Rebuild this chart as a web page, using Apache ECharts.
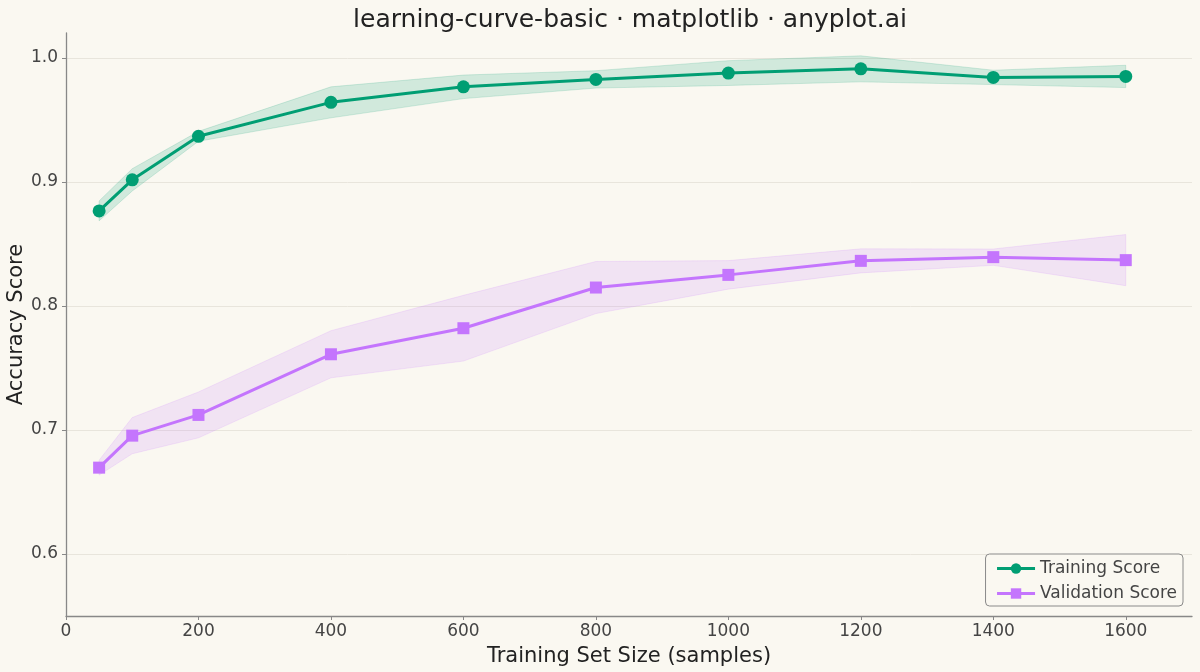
<!DOCTYPE html>
<html>
<head>
<meta charset="utf-8">
<script src="https://cdn.jsdelivr.net/npm/echarts@6/dist/echarts.min.js"></script>
<style>
  html,body{margin:0;padding:0;background:#FAF8F1;}
  #main{width:1200px;height:672px;}
</style>
</head>
<body>
<div id="main"></div>
<script>
/* data */
var trainSizes = [50, 100, 200, 400, 600, 800, 1000, 1200, 1400, 1600];
var trainMean = [0.8766, 0.9016, 0.9367, 0.9641, 0.9766, 0.9826, 0.9877, 0.9911, 0.9842, 0.9850];
var trainStd  = [0.0080, 0.0090, 0.0040, 0.0125, 0.0095, 0.0070, 0.0100, 0.0105, 0.0058, 0.0090];
var valMean = [0.6696, 0.6954, 0.7121, 0.7610, 0.7820, 0.8148, 0.8250, 0.8363, 0.8393, 0.8369];
var valStd  = [0.0060, 0.0146, 0.0185, 0.0190, 0.0265, 0.0210, 0.0115, 0.0097, 0.0066, 0.0206];
var yTicks = [0.6, 0.7, 0.8, 0.9, 1.0];
var xTicks = [0, 200, 400, 600, 800, 1000, 1200, 1400, 1600];

var green = '#009E73';
var purple = '#C475FD';
var font = 'DejaVu Sans';

function pairs(xs, ys){
    return xs.map(function(x, i){ return [x, ys[i]]; });
}

// std band as one polygon (mean +/- std), drawn through the axes
function band(name, m, s, color){
    var rows = trainSizes.map(function(x, i){ return [x, m[i] - s[i], m[i] + s[i]]; });
    return {
        name: name, type: 'custom', silent: true, z: 1,
        data: rows,
        encode: {x: 0, y: [1, 2]},
        renderItem: function(params, api){
            if (params.dataIndex !== 0) return;
            var top = [], bot = [];
            rows.forEach(function(r){
                top.push(api.coord([r[0], r[2]]));
                bot.push(api.coord([r[0], r[1]]));
            });
            return {
                type: 'polygon',
                shape: {points: top.concat(bot.reverse())},
                style: {fill: color, opacity: 0.16, stroke: color, lineWidth: 1}
            };
        }
    };
}

var myChart = echarts.init(document.getElementById('main'));
var option = {
    backgroundColor: '#FAF8F1',
    animation: false,
    textStyle: {fontFamily: font},
    title: {
        text: 'learning-curve-basic · matplotlib · anyplot.ai',
        left: 625, top: 3, textAlign: 'center',
        textStyle: {fontFamily: font, fontSize: 25, fontWeight: 'normal', color: '#222'}
    },
    grid: {left: 66, right: 8, top: 33, bottom: 56, outerBoundsMode: 'none', containLabel: false},
    legend: {
        data: ['Training Score', 'Validation Score'],
        orient: 'vertical', right: 17, bottom: 66,
        itemWidth: 38, itemHeight: 13, itemGap: 8,
        padding: [6, 6, 4, 10],
        backgroundColor: '#FAF8F1',
        borderColor: '#8a8a8a', borderWidth: 1, borderRadius: 4,
        lineStyle: {width: 3},
        textStyle: {fontFamily: font, fontSize: 17, color: '#444'}
    },
    xAxis: {
        type: 'value', min: 0, max: 1700, interval: 200,
        name: 'Training Set Size (samples)', nameLocation: 'middle', nameGap: 30,
        nameMoveOverlap: false,
        nameTextStyle: {fontFamily: font, fontSize: 21, color: '#222'},
        axisLine: {onZero: false, lineStyle: {color: '#888', width: 1.3}},
        axisTick: {show: true, length: 4, lineStyle: {color: '#888'}, customValues: xTicks},
        axisLabel: {
            fontFamily: font, fontSize: 17, color: '#444', margin: 7, customValues: xTicks,
            formatter: function(v){ return String(v); }
        },
        splitLine: {show: false}
    },
    yAxis: {
        type: 'value', min: 0.55, max: 1.02,
        name: 'Accuracy Score', nameLocation: 'middle', nameGap: 39,
        nameMoveOverlap: false,
        nameTextStyle: {fontFamily: font, fontSize: 21, color: '#222'},
        axisLine: {show: true, lineStyle: {color: '#888', width: 1.3}},
        axisTick: {show: true, length: 4, lineStyle: {color: '#888'}, customValues: yTicks},
        axisLabel: {
            fontFamily: font, fontSize: 17, color: '#444', margin: 8, customValues: yTicks,
            formatter: function(v){ return v.toFixed(1); }
        },
        splitLine: {show: true, lineStyle: {color: '#E8E5DC', width: 1}}
    },
    series: [
        band('trainBand', trainMean, trainStd, green),
        band('valBand', valMean, valStd, purple),
        {
            name: 'Training Score', type: 'line',
            data: pairs(trainSizes, trainMean),
            symbol: 'circle', symbolSize: 13,
            lineStyle: {color: green, width: 3},
            itemStyle: {color: green}, z: 3
        },
        {
            name: 'Validation Score', type: 'line',
            data: pairs(trainSizes, valMean),
            symbol: 'rect', symbolSize: 12,
            lineStyle: {color: purple, width: 3},
            itemStyle: {color: purple}, z: 3
        }
    ]
};
myChart.setOption(option);
</script>
</body>
</html>
